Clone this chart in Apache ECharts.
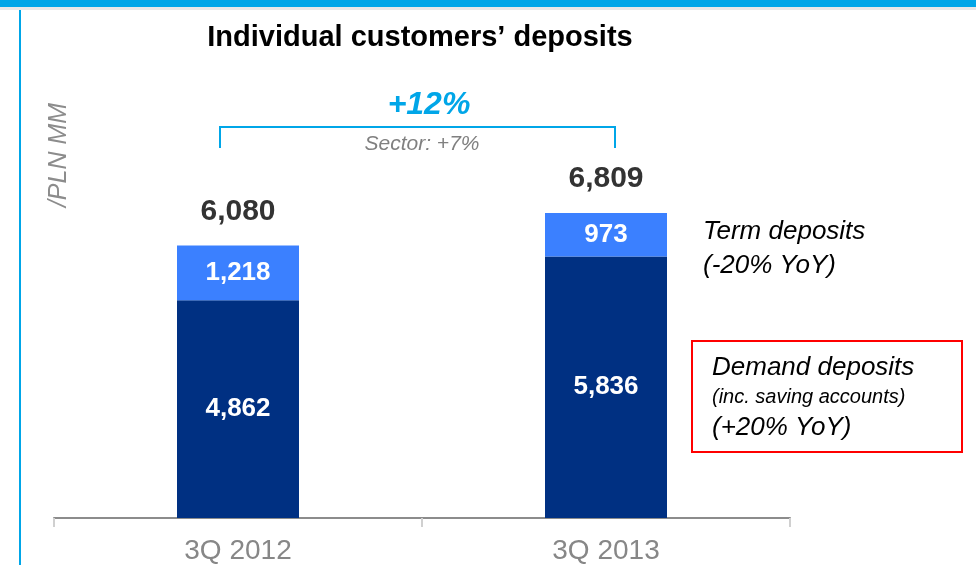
<!DOCTYPE html>
<html>
<head>
<meta charset="utf-8">
<script src="https://cdn.jsdelivr.net/npm/echarts@6/dist/echarts.min.js"></script>
<style>
  html, body { margin: 0; padding: 0; background: #fff; }
  #chart { width: 976px; height: 565px; }
</style>
</head>
<body>
<div id="chart"></div>
<script>
// Individual customers' deposits, PLN MM
const categories = ['3Q 2012', '3Q 2013'];
const demandDeposits = [4862, 5836];
const termDeposits = [1218, 973];
const totals = categories.map((c, i) => demandDeposits[i] + termDeposits[i]);

const FONT = '"Liberation Sans", Arial, sans-serif';
const fmt = v => v.toLocaleString('en-US');

const chart = echarts.init(document.getElementById('chart'), null, { renderer: 'canvas' });

const innerLabel = {
  show: true,
  position: 'inside',
  color: '#fff',
  fontFamily: FONT,
  fontWeight: 'bold',
  fontSize: 26,
  formatter: p => fmt(p.value)
};

chart.setOption({
  animation: false,
  textStyle: { fontFamily: FONT },
  grid: { left: 54, right: 186, top: 70, bottom: 47, containLabel: false },
  xAxis: {
    type: 'category',
    data: categories,
    axisLine: { lineStyle: { color: '#8c8c8c', width: 2 } },
    axisTick: { show: true, length: 9, lineStyle: { color: '#d0d0d0', width: 2 } },
    axisLabel: { color: '#878787', fontSize: 28, fontFamily: FONT, margin: 19 }
  },
  yAxis: {
    type: 'value',
    min: 0,
    max: 10000,
    show: false,
    splitLine: { show: false }
  },
  series: [
    {
      name: 'Demand deposits',
      type: 'bar',
      stack: 'dep',
      barWidth: 122,
      data: demandDeposits,
      itemStyle: { color: '#003082' },
      label: innerLabel
    },
    {
      name: 'Term deposits',
      type: 'bar',
      stack: 'dep',
      data: termDeposits,
      itemStyle: { color: '#3B80FF' },
      label: innerLabel
    },
    {
      name: 'Total',
      type: 'bar',
      stack: 'dep',
      data: totals.map(() => 0),
      itemStyle: { color: 'transparent' },
      label: {
        show: true,
        position: 'top',
        distance: 19,
        color: '#333',
        fontFamily: FONT,
        fontWeight: 'bold',
        fontSize: 30,
        formatter: p => fmt(totals[p.dataIndex])
      }
    }
  ],
  graphic: [
    // top banner and left rule
    { type: 'rect', shape: { x: 0, y: 0, width: 976, height: 7 }, style: { fill: '#00A6E8' } },
    { type: 'rect', shape: { x: 0, y: 7, width: 976, height: 3 }, style: { fill: '#e8e8e8' } },
    { type: 'rect', shape: { x: 19, y: 10, width: 2, height: 555 }, style: { fill: '#00A6E8' } },
    // title
    { type: 'text', x: 420, y: 38, style: { text: 'Individual customers’ deposits', font: 'bold 29px ' + FONT, fill: '#000', align: 'center', verticalAlign: 'middle' } },
    // unit label
    { type: 'text', x: 59, y: 155, rotation: Math.PI / 2, style: { text: '/PLN MM', font: 'italic 25px ' + FONT, fill: '#8c8c8c', align: 'center', verticalAlign: 'middle' } },
    // growth bracket
    { type: 'polyline', shape: { points: [[220, 148], [220, 127], [615, 127], [615, 148]] }, style: { stroke: '#00A6E8', lineWidth: 2, fill: null } },
    { type: 'text', x: 429, y: 105, style: { text: '+12%', font: 'italic bold 32px ' + FONT, fill: '#00A6E8', align: 'center', verticalAlign: 'middle' } },
    { type: 'text', x: 422, y: 144, style: { text: 'Sector: +7%', font: 'italic 21px ' + FONT, fill: '#808080', align: 'center', verticalAlign: 'middle' } },
    // term deposits note
    { type: 'text', x: 703, y: 232, style: { text: 'Term deposits', font: 'italic 26px ' + FONT, fill: '#000', verticalAlign: 'middle' } },
    { type: 'text', x: 703, y: 266, style: { text: '(-20% YoY)', font: 'italic 26px ' + FONT, fill: '#000', verticalAlign: 'middle' } },
    // demand deposits note
    { type: 'rect', shape: { x: 692, y: 341, width: 270, height: 111 }, style: { fill: null, stroke: '#ff0000', lineWidth: 2 } },
    { type: 'text', x: 712, y: 368, style: { text: 'Demand deposits', font: 'italic 26px ' + FONT, fill: '#000', verticalAlign: 'middle' } },
    { type: 'text', x: 712, y: 397, style: { text: '(inc. saving accounts)', font: 'italic 20px ' + FONT, fill: '#000', verticalAlign: 'middle' } },
    { type: 'text', x: 712, y: 428, style: { text: '(+20% YoY)', font: 'italic 26px ' + FONT, fill: '#000', verticalAlign: 'middle' } }
  ]
});
</script>
</body>
</html>
